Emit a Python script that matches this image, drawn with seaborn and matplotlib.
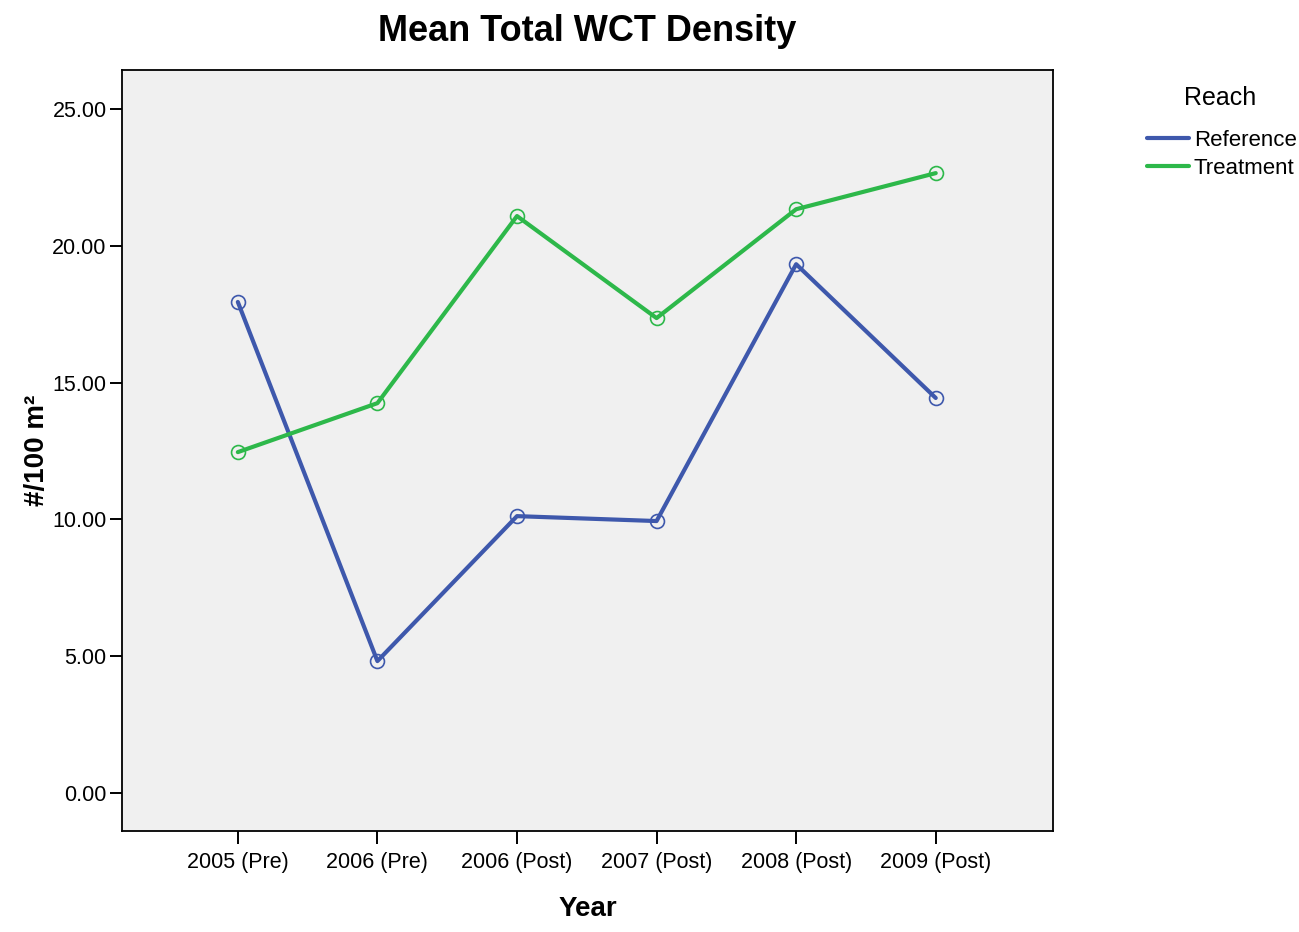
import numpy as np
import pandas as pd
import matplotlib
matplotlib.use("Agg")
import matplotlib.pyplot as plt
from matplotlib.ticker import FormatStrFormatter
import seaborn as sns

years = ["2005 (Pre)", "2006 (Pre)", "2006 (Post)", "2007 (Post)", "2008 (Post)", "2009 (Post)"]
reference = [17.95, 4.82, 10.12, 9.94, 19.33, 14.44]
treatment = [12.46, 14.25, 21.09, 17.36, 21.34, 22.66]

df = pd.DataFrame({
    "Year": years * 2,
    "Density": reference + treatment,
    "Reach": ["Reference"] * len(years) + ["Treatment"] * len(years),
})

sns.set_style("ticks")
plt.rcParams["font.family"] = ["Liberation Sans", "DejaVu Sans"]
plt.rcParams["text.color"] = "black"
plt.rcParams["axes.labelcolor"] = "black"
plt.rcParams["xtick.color"] = "black"
plt.rcParams["ytick.color"] = "black"

fig = plt.figure(figsize=(12.99, 9.32), dpi=100)
ax = fig.add_axes([0.0939, 0.1084, 0.7167, 0.8165])
ax.set_facecolor("#f0f0f0")

palette = {"Reference": "#3e58ac", "Treatment": "#2db84a"}
sns.lineplot(data=df, x="Year", y="Density", hue="Reach", palette=palette,
             marker="o", markersize=10, markerfacecolor="none", markeredgewidth=1.2,
             linewidth=3, sort=False, ax=ax)
for line in ax.lines:
    line.set_markeredgecolor(line.get_color())

ax.set_xlim(-0.83, 5.84)
ax.set_ylim(-1.39, 26.43)
ax.set_yticks([0, 5, 10, 15, 20, 25])
ax.yaxis.set_major_formatter(FormatStrFormatter("%.2f"))
ax.tick_params(axis="both", length=9, width=1.4, labelsize=15.5)
ax.tick_params(axis="x", pad=6)
ax.tick_params(axis="y", pad=2)
for s in ax.spines.values():
    s.set_linewidth(1.3)
    s.set_color("black")

ax.set_title("Mean Total WCT Density", fontsize=26, fontweight="bold", pad=21)
ax.set_xlabel("Year", fontsize=20, fontweight="bold", labelpad=17)
ax.set_ylabel("#/100 m²", fontsize=20, fontweight="bold", labelpad=2)

# legend title placed separately to get the wider gap of the original
fig.text(1220 / 1299, 1 - 98 / 932, "Reach", fontsize=18, ha="center", va="center")
handles, labels = ax.get_legend_handles_labels()
for h in handles:
    h.set_marker("")
ax.legend(handles, labels, loc="upper left",
          bbox_to_anchor=(0.883, 1 - 130 / 932), bbox_transform=fig.transFigure,
          frameon=False, fontsize=16, handlelength=1.9,
          handletextpad=0.2, labelspacing=0.3, borderpad=0, borderaxespad=0)

fig.savefig("out.png", dpi=100)
